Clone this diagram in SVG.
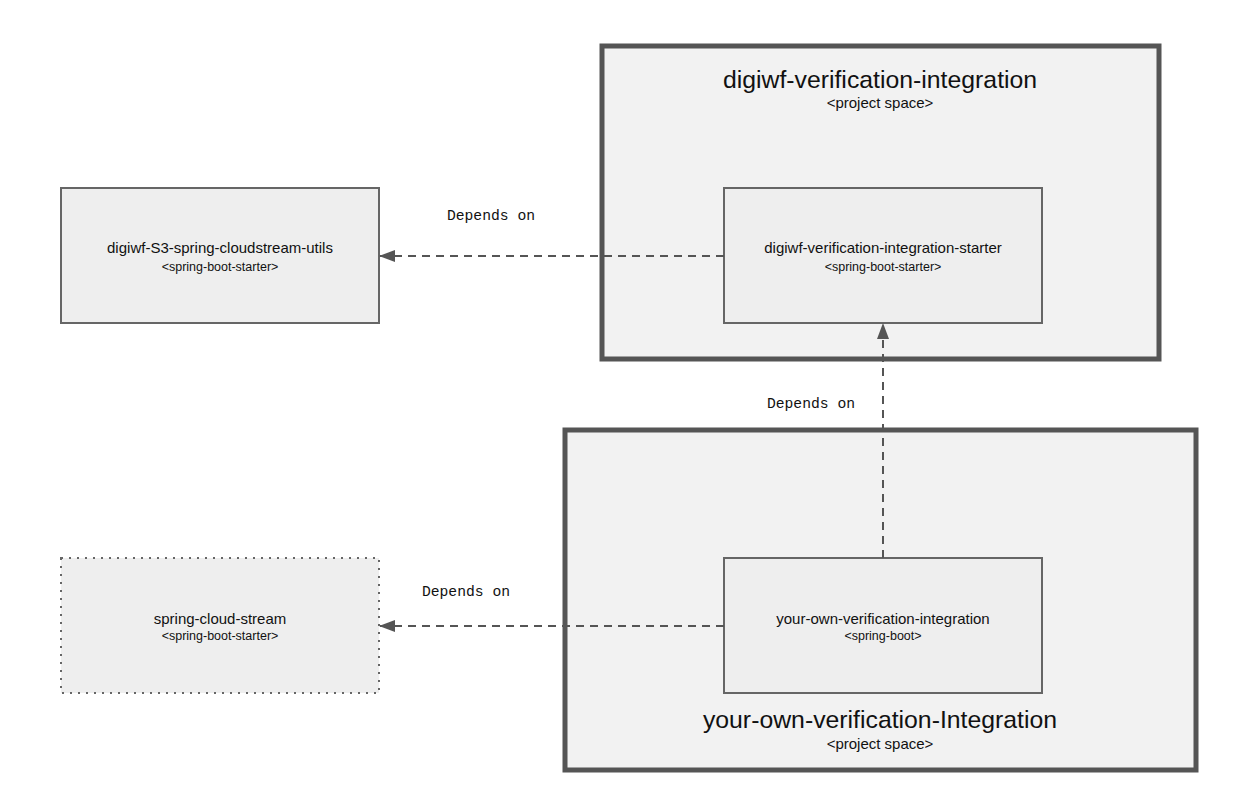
<svg xmlns="http://www.w3.org/2000/svg" width="1253" height="811" viewBox="0 0 1253 811">
<defs>
<style>
.proj{fill:#f2f2f2;stroke:#555;stroke-width:5}
.node{fill:#eeeeee;stroke:#666;stroke-width:2}
.ext{fill:#eeeeee;stroke:#666;stroke-width:2;stroke-dasharray:2 6}
.t{font-family:"Liberation Sans",Arial,sans-serif;fill:#111;text-anchor:middle}
.big{font-size:24.8px}
.mid{font-size:15px}
.sm{font-size:12.5px}
.ps{font-size:15px}
.lbl{font-family:"Liberation Mono","Courier New",monospace;font-size:14.7px;fill:#111;text-anchor:middle}
.edge{fill:none;stroke:#555;stroke-width:2;stroke-dasharray:8 6}
</style>
<marker id="arr" viewBox="0 0 16 12" refX="15" refY="6" markerWidth="16" markerHeight="12" markerUnits="userSpaceOnUse" orient="auto">
<path d="M0,0 L16,6 L0,12 z" fill="#555"/>
</marker>
</defs>
<rect width="1253" height="811" fill="#fff"/>
<g id="project-digiwf">
<rect class="proj" x="602" y="46" width="557" height="313"/>
<text class="t big" x="880" y="88">digiwf-verification-integration</text>
<text class="t ps" x="880" y="108">&lt;project space&gt;</text>
</g>
<g id="project-your-own">
<rect class="proj" x="565" y="430" width="631" height="340"/>
<text class="t big" x="880" y="728">your-own-verification-Integration</text>
<text class="t ps" x="880" y="749">&lt;project space&gt;</text>
</g>
<g id="node-s3-utils">
<rect class="node" x="61" y="188" width="318" height="135"/>
<text class="t mid" x="220" y="253">digiwf-S3-spring-cloudstream-utils</text>
<text class="t sm" x="220" y="271">&lt;spring-boot-starter&gt;</text>
</g>
<g id="node-starter">
<rect class="node" x="724" y="188" width="318" height="135"/>
<text class="t mid" x="883" y="253">digiwf-verification-integration-starter</text>
<text class="t sm" x="883" y="271">&lt;spring-boot-starter&gt;</text>
</g>
<g id="node-cloud-stream">
<rect class="ext" x="61" y="558" width="318" height="135"/>
<text class="t mid" x="220" y="624">spring-cloud-stream</text>
<text class="t sm" x="220" y="640">&lt;spring-boot-starter&gt;</text>
</g>
<g id="node-your-own">
<rect class="node" x="724" y="558" width="318" height="135"/>
<text class="t mid" x="883" y="624">your-own-verification-integration</text>
<text class="t sm" x="883" y="640">&lt;spring-boot&gt;</text>
</g>
<g id="connectors">
<line class="edge" x1="724" y1="256" x2="380" y2="256" marker-end="url(#arr)"/>
<text class="lbl" x="491" y="220">Depends on</text>
<line class="edge" x1="883" y1="558" x2="883" y2="324" marker-end="url(#arr)"/>
<text class="lbl" x="811" y="408">Depends on</text>
<line class="edge" x1="724" y1="626" x2="380" y2="626" marker-end="url(#arr)"/>
<text class="lbl" x="466" y="596">Depends on</text>
</g>
</svg>
